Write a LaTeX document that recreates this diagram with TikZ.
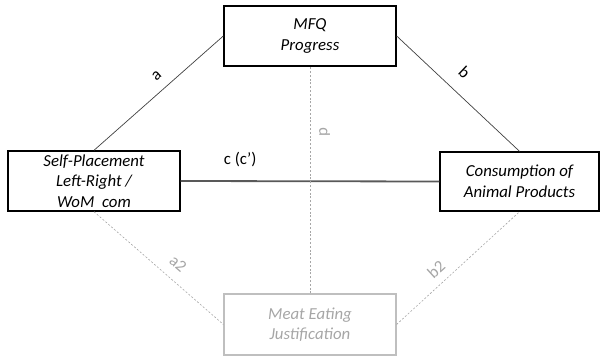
\documentclass[tikz,border=0pt]{standalone}
\usepackage{fontspec}
\setmainfont{Carlito}
\usepackage{tikz}
\usetikzlibrary{arrows.meta}

\definecolor{boxgray}{HTML}{BFBFBF}
\definecolor{dashgray}{HTML}{A6A6A6}
\definecolor{linegray}{HTML}{404040}
\definecolor{cgray}{HTML}{595959}

\begin{document}
\begin{tikzpicture}[x=1pt,y=-1pt,
  varbox/.style={draw=black,line width=1.4pt,inner sep=0pt,align=center,
    font=\fontsize{16.8}{20.5}\selectfont\itshape},
  ghostbox/.style={varbox,draw=boxgray,line width=1.1pt,text=dashgray},
  link/.style={draw=linegray,line width=0.7pt},
  ghostlink/.style={draw=dashgray,line width=0.6pt,dash pattern=on 2pt off 1.8pt},
  lab/.style={font=\fontsize{16.8}{18}\selectfont,inner sep=0pt},
  ghostlab/.style={lab,text=dashgray}]
\useasboundingbox (0,0) rectangle (602,356);

\node[varbox,minimum width=172pt,minimum height=60pt] (mfq) at (310,36) {MFQ\\Progress};
\node[varbox,minimum width=172pt,minimum height=60pt] (self) at (94,181) {Self-Placement\\Left-Right /\\WoM~~com};
\node[varbox,minimum width=159pt,minimum height=59pt] (cons) at (519.5,181.5) {Consumption of\\Animal Products};
\node[ghostbox,minimum width=172pt,minimum height=61pt] (meat) at (310,324.5) {Meat Eating\\Justification};

\draw[link] (self.north) -- node[lab,sloped,above=10pt,pos=0.56] {a} (mfq.west);
\draw[link] (mfq.east) -- node[lab,sloped,above=14pt,pos=0.44] {b} (cons.north);
\draw[draw=cgray,line width=1.8pt] (self.east) -- node[lab,above=13pt,pos=0.23] {c (c')} (cons.west);

\draw[ghostlink] (meat.north) -- node[ghostlab,sloped,below=9pt,pos=0.71] {p} (mfq.south);
\draw[ghostlink] (self.south) -- node[ghostlab,sloped,above=10pt,pos=0.57] {a2} (meat.west);
\draw[ghostlink] (meat.east) -- node[ghostlab,sloped,above=8pt,pos=0.40] {b2} (cons.south);
\end{tikzpicture}
\end{document}
